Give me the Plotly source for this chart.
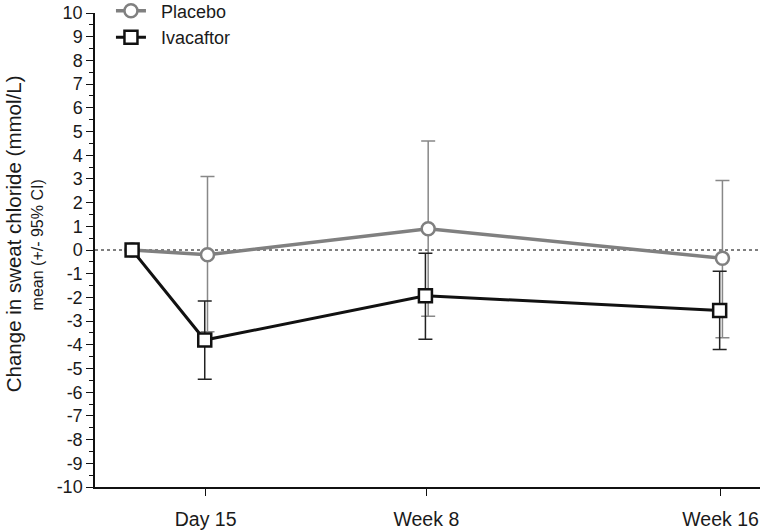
import plotly.graph_objects as go

# Data
visit_day = [1, 15, 57, 113]            # study day of each visit (baseline = Day 1)
tick_days = [15, 57, 113]
tick_labels = ["Day 15", "Week 8", "Week 16"]

placebo_mean = [0.0, -0.2, 0.9, -0.35]
placebo_upper = [0.0, 3.1, 4.6, 2.93]
placebo_lower = [0.0, -3.45, -2.8, -3.7]

ivacaftor_mean = [0.0, -3.8, -1.93, -2.55]
ivacaftor_upper = [0.0, -2.15, -0.14, -0.9]
ivacaftor_lower = [0.0, -5.45, -3.77, -4.2]

y_ticks = list(range(-10, 11))
y_tick_text = [str(v) for v in y_ticks]

FONT = "Liberation Sans, Arial, sans-serif"


def err(mean, up, lo):
    plus = [u - m for m, u in zip(mean, up)]
    minus = [m - l for m, l in zip(mean, lo)]
    return plus, minus


p_plus, p_minus = err(placebo_mean, placebo_upper, placebo_lower)
i_plus, i_minus = err(ivacaftor_mean, ivacaftor_upper, ivacaftor_lower)

shift = 0.35
p_x = [d + (shift if i > 0 else 0) for i, d in enumerate(visit_day)]
i_x = [d - (shift * 0.5 if i > 0 else 0) for i, d in enumerate(visit_day)]

NB = "\u00a0\u00a0"

fig = go.Figure()

fig.add_trace(go.Scatter(
    x=p_x, y=placebo_mean, name=NB + "Placebo", mode="lines+markers",
    line=dict(color="#808080", width=3.5),
    marker=dict(symbol="circle", size=13, color="white",
                line=dict(color="#808080", width=2.5)),
    error_y=dict(type="data", symmetric=False, array=p_plus, arrayminus=p_minus,
                 color="#888888", thickness=1.5, width=7),
))

fig.add_trace(go.Scatter(
    x=i_x, y=ivacaftor_mean, name=NB + "Ivacaftor", mode="lines+markers",
    line=dict(color="#111111", width=3),
    marker=dict(symbol="square", size=13, color="white",
                line=dict(color="#111111", width=2.5)),
    error_y=dict(type="data", symmetric=False, array=i_plus, arrayminus=i_minus,
                 color="#222222", thickness=1.5, width=7),
))

fig.add_shape(type="line", xref="paper", yref="y", x0=0, x1=1, y0=0, y1=0,
              line=dict(color="black", width=1, dash="dot"), layer="below")

fig.update_layout(
    width=764, height=531,
    margin=dict(l=95, r=4, t=13, b=44, autoexpand=False),
    paper_bgcolor="white", plot_bgcolor="white",
    font=dict(family=FONT, color="#1a1a1a"),
    showlegend=True,
    legend=dict(x=0.024, y=1.043, xanchor="left", yanchor="top",
                font=dict(size=18, family=FONT), bgcolor="rgba(0,0,0,0)",
                tracegroupgap=0, itemwidth=30),
    xaxis=dict(range=[-6.06, 120.5], tickmode="array", tickvals=tick_days,
               ticktext=tick_labels, showgrid=False, zeroline=False,
               showline=True, linecolor="#111111", linewidth=1.5,
               ticks="outside", ticklen=7, tickcolor="#111111", tickwidth=1,
               ticklabelstandoff=7,
               tickfont=dict(size=19.5, family=FONT), automargin=False),
    yaxis=dict(range=[-10, 10], tickmode="array", tickvals=y_ticks,
               ticktext=y_tick_text,
               showgrid=False, zeroline=False,
               showline=True, linecolor="#111111", linewidth=1.5,
               ticks="outside", ticklen=7, tickcolor="#111111", tickwidth=1,
               tickfont=dict(size=18, family=FONT), automargin=False,
               minor=dict(tickmode="linear", dtick=0.5, ticks="outside",
                          ticklen=4, tickcolor="#111111", tickwidth=1)),
)

fig.add_annotation(text="Change in sweat chloride (mmol/L)", textangle=-90,
                   xref="paper", yref="paper", x=-0.122, y=0.535,
                   xanchor="center", yanchor="middle", showarrow=False,
                   font=dict(size=20.5, family=FONT, color="#1a1a1a"))
fig.add_annotation(text="mean (+/- 95% CI)", textangle=-90,
                   xref="paper", yref="paper", x=-0.087, y=0.51,
                   xanchor="center", yanchor="middle", showarrow=False,
                   font=dict(size=16, family=FONT, color="#1a1a1a"))

fig.write_html("out.html", config={"displayModeBar": False},
               post_script="document.body.style.margin='0';document.body.style.padding='0';")
